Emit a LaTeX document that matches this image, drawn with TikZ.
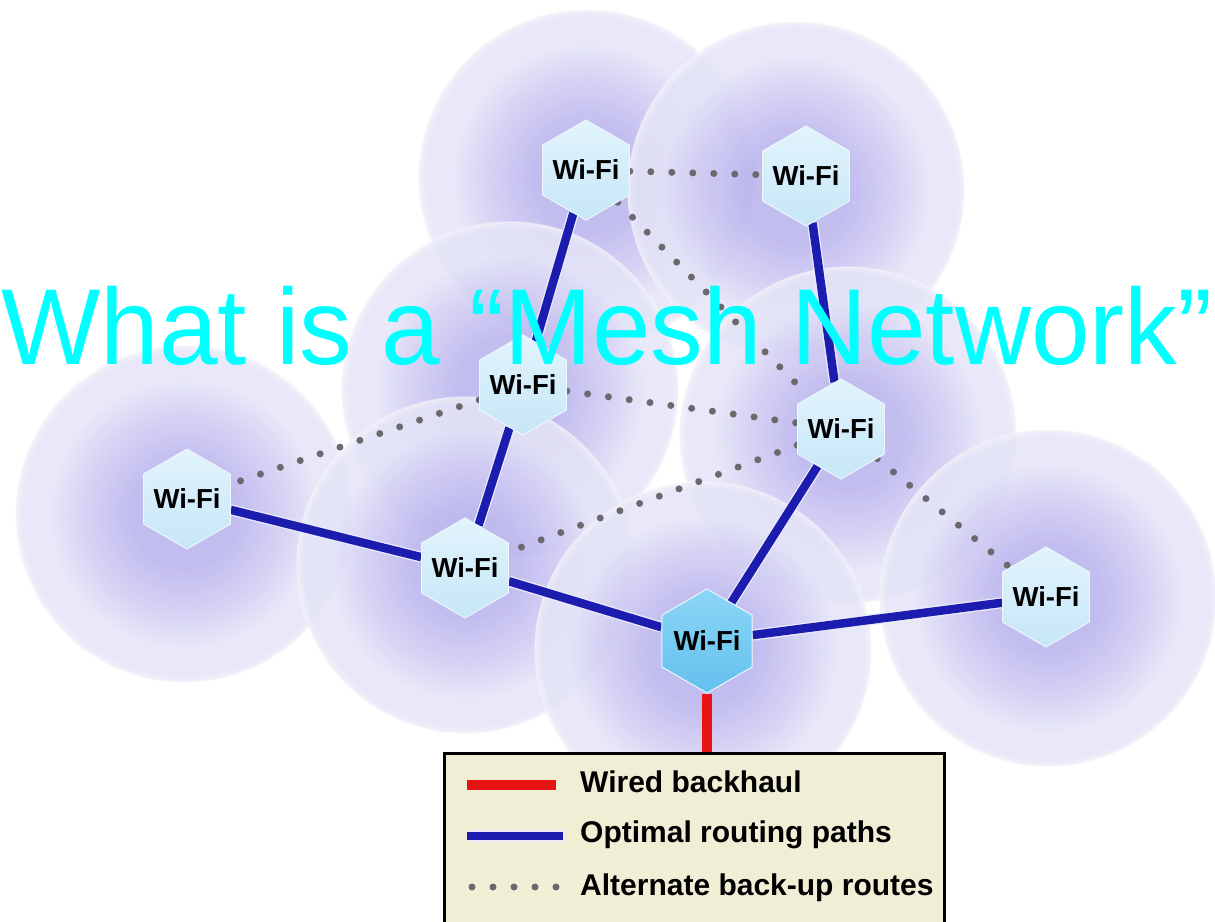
\documentclass[tikz,border=0pt]{standalone}
\usepackage{fontspec}
\usepackage{graphicx}
\setmainfont{Liberation Sans}
\usetikzlibrary{shapes.geometric}
\definecolor{glowA}{RGB}{184,178,237}
\definecolor{glowB}{RGB}{208,204,243}
\definecolor{glowC}{RGB}{228,228,247}
\definecolor{glowD}{RGB}{240,240,249}
\definecolor{circedge}{RGB}{246,246,252}
\definecolor{optblue}{RGB}{28,28,175}
\definecolor{halo}{RGB}{236,236,250}
\definecolor{wirered}{RGB}{232,20,20}
\definecolor{dotgray}{RGB}{105,105,110}
\definecolor{hexlight}{RGB}{226,244,252}
\definecolor{hexdark}{RGB}{198,230,247}
\definecolor{hexhiA}{RGB}{140,214,246}
\definecolor{hexhiB}{RGB}{100,192,238}
\definecolor{legendfill}{RGB}{241,238,214}
\definecolor{titlecyan}{RGB}{0,255,255}
\pgfdeclareradialshading{glow}{\pgfpoint{0bp}{0bp}}{color(0bp)=(glowA); color(8bp)=(glowA); color(15bp)=(glowB); color(20bp)=(glowC); color(24bp)=(glowC); color(25bp)=(glowD); color(50bp)=(glowD)}
\pgfdeclarelayer{circ}
\pgfdeclarelayer{edges}
\pgfsetlayers{circ,edges,main}
\tikzset{
  cover/.style={shading=glow, fill opacity=0.85},
  coverline/.style={draw=circedge, line width=1.5pt, opacity=0.45},
  hexnode/.style={regular polygon, regular polygon sides=6, shape border rotate=30,
    minimum size=100pt, inner sep=0pt, top color=hexlight, bottom color=hexdark,
    draw={rgb,255:red,236;green,246;blue,252}, line width=1pt,
    font=\fontsize{27.5}{27.5}\selectfont\bfseries},
  hexmain/.style={hexnode, top color=hexhiA, bottom color=hexhiB, minimum size=104pt},
  optimal/.style={draw=halo, line width=1.3pt, double=optblue, double distance=8.5pt},
  wired/.style={draw=wirered, line width=10pt},
  backup/.style={draw=dotgray, line width=7pt, line cap=round, dash pattern=on 0pt off 21pt},
  legendbox/.style={draw=black, line width=3pt, fill=legendfill, anchor=north west,
    minimum width=500pt, minimum height=185pt, inner sep=0pt},
  legtext/.style={anchor=base west, inner sep=0pt, font=\fontsize{30}{30}\selectfont\bfseries},
  titletext/.style={anchor=base, inner sep=0pt, text=titlecyan, font=\fontsize{108}{108}\selectfont}
}
\newcommand{\wifi}{\makebox[30pt][c]{Wi-Fi}}
\begin{document}
\begin{tikzpicture}[x=1pt,y=-1pt]
\useasboundingbox (0,0) rectangle (1215,921);
% coverage circles
\begin{pgfonlayer}{circ}
\fill[white] (0,0) rectangle (1215,921);
\foreach \cx/\cy in {587/178, 796/190, 510/390, 848/435, 184/514, 465/565, 703/650, 1048/598}{
  \path[cover] (\cx,\cy) circle[radius=168];
  \draw[coverline] (\cx,\cy) circle[radius=168];
}
\end{pgfonlayer}
% nodes
\node[hexnode] (n1) at (586,170) {\wifi};
\node[hexnode] (n2) at (806,176) {\wifi};
\node[hexnode] (n3) at (523,385) {\wifi};
\node[hexnode] (n4) at (841,429) {\wifi};
\node[hexnode] (n5) at (187,499) {\wifi};
\node[hexnode] (n6) at (465,568) {\wifi};
\node[hexmain] (n7) at (707,641) {\wifi};
\node[hexnode] (n8) at (1046,597) {\wifi};
% legend
\node[legendbox] (legend) at (443,752) {};
\begin{pgfonlayer}{edges}
\draw[optimal] (n1) -- (n3);
\draw[optimal] (n2) -- (n4);
\draw[optimal] (n3) -- (n6);
\draw[optimal] (n5) -- (n6);
\draw[optimal] (n6) -- (n7);
\draw[optimal] (n4) -- (n7);
\draw[optimal] (n7) -- (n8);
\draw[backup] (n1) -- (n2);
\draw[backup] (n1) -- (n4);
\draw[backup] (n3) -- (n5);
\draw[backup] (n3) -- (n4);
\draw[backup] (n4) -- (n6);
\draw[backup] (n4) -- (n8);
\draw[wired] (n7.south) -- (n7.south |- legend.north);
\end{pgfonlayer}
% legend entries
\coordinate (la1) at (467,785); \coordinate (lb1) at (556,785);
\coordinate (la2) at (467,836); \coordinate (lb2) at (563,836);
\coordinate (la3) at (472,887); \coordinate (lb3) at (556,887);
\draw[wired] (la1) -- (lb1);
\draw[optimal] (la2) -- (lb2);
\draw[backup] (la3) -- (lb3);
\node[legtext] (t1) at (580,792) {Wired backhaul};
\node[legtext] (t2) at (580,842) {Optimal routing paths};
\node[legtext] (t3) at (580,895) {Alternate back-up routes};
% title
\node[titletext] (title) at (607,364) {\scalebox{0.975}[1]{What is a “Mesh Network”}};
\end{tikzpicture}
\end{document}
